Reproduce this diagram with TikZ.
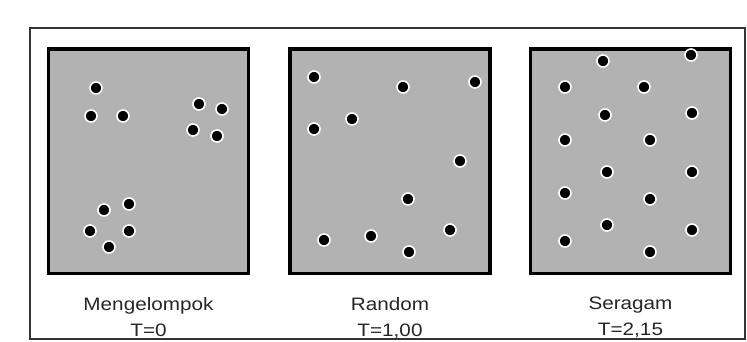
\documentclass[tikz,border=0pt]{standalone}
\usepackage{fontspec}
\setmainfont{Liberation Sans}[FakeStretch=1.15]
\usetikzlibrary{positioning}

\begin{document}
\begin{tikzpicture}[
  x=1pt, y=-1pt,
  node distance=22pt,
  panel/.style={rectangle, draw=black, line width=3.5pt, fill=black!30, minimum width=200pt, minimum height=224.5pt, inner sep=0pt},
  caption/.style={align=center, inner sep=0pt, text=black!85, font=\fontsize{18}{26}\selectfont},
  dot/.style={fill=black, draw=white, line width=1.6pt},
  frame/.style={draw=black!80, line width=1.3pt}
]
\useasboundingbox (0,0) rectangle (747,341);

% Outer frame
\draw[frame] (30,28) rectangle (745,339);

% Panels
\node[panel] (kelompok) at (148.5,161) {};
\node[panel] (acak) at (390,161) {};
\node[panel] (seragam) at (630.5,161) {};

% Captions
\node[caption, below=of kelompok] (capkelompok) {Mengelompok\\T=0};
\node[caption, below=of acak] (capacak) {Random\\T=1,00};
\node[caption, below=of seragam] (capseragam) {Seragam\\T=2,15};

% Dots, clustered
\foreach \x/\y in {96/88, 91/116, 123/116, 199/104, 222/109, 193/130, 217/136,
                   104/210, 129/204, 90/231, 129/231, 109/247}
  \draw[dot] (\x,\y) circle (6pt);

% Dots, random
\foreach \x/\y in {314/77, 403/87, 475/82, 352/119, 314/129, 460/161, 408/199,
                   324/240, 371/236, 450/230, 409/252}
  \draw[dot] (\x,\y) circle (6pt);

% Dots, uniform
\foreach \x/\y in {603/61, 691/55, 565/87, 644/87, 605/115, 692/113, 565/140, 650/140,
                   607/172, 692/172, 565/193, 650/199, 607/225, 692/230, 565/241, 650/252}
  \draw[dot] (\x,\y) circle (6pt);

\end{tikzpicture}
\end{document}
